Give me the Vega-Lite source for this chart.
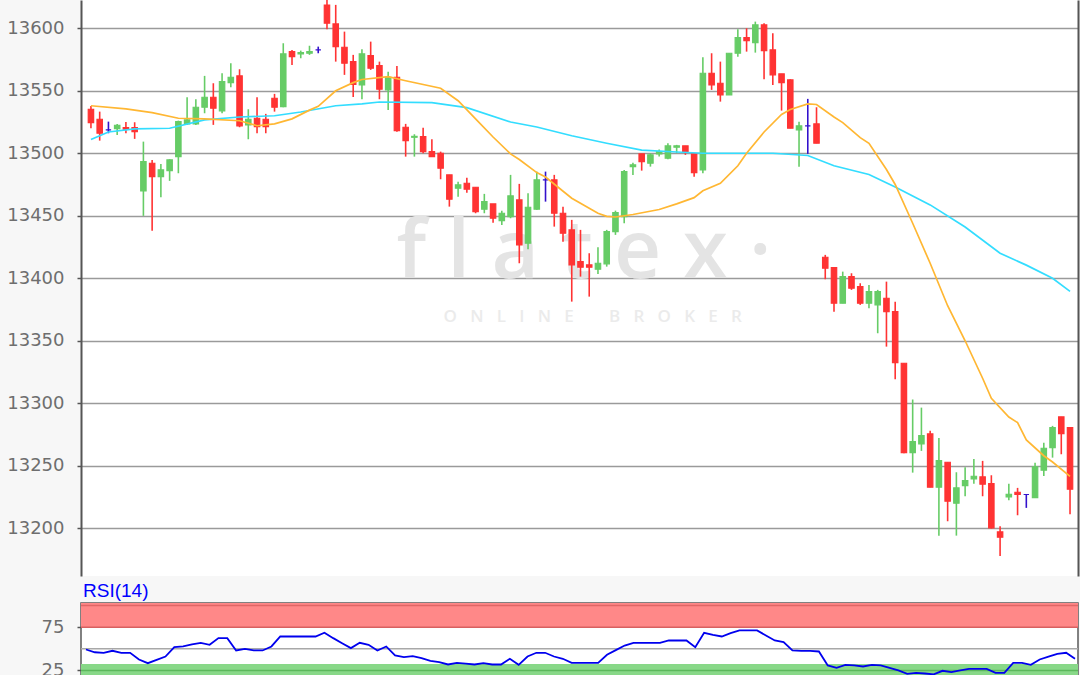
{
  "$schema": "https://vega.github.io/schema/vega-lite/v6.json",
  "padding": {"left": 6, "top": 0, "right": 3, "bottom": 0},
  "background": "#f7f7f7",
  "spacing": 27,
  "bounds": "flush",
  "config": {
    "view": {"fill": "white", "stroke": null},
    "axis": {"labelFont": "DejaVu Sans", "labelFontSize": 18, "labelColor": "#6e6e6e", "tickColor": "#555555", "tickSize": 4, "tickWidth": 1.5, "domainColor": "#555555", "domainWidth": 2, "labelPadding": 13, "gridColor": "#9a9a9a", "gridWidth": 1.5, "format": "d"}
  },
  "datasets": {
    "one": [{"k": 1}],
    "candles": [
      {"i":0,"o":13535.2,"h":13537.9,"l":13520,"c":13524.5},
      {"i":1,"o":13527.2,"h":13533.3,"l":13510.1,"c":13516},
      {"i":2,"o":13518.7,"h":13525.3,"l":13516,"c":13518.7},
      {"i":3,"o":13519.7,"h":13523.5,"l":13514.7,"c":13522.4},
      {"i":4,"o":13520.5,"h":13525,"l":13516,"c":13519.2},
      {"i":5,"o":13520.5,"h":13524.8,"l":13511.5,"c":13517.3},
      {"i":6,"o":13469.9,"h":13509.3,"l":13449.9,"c":13493.3},
      {"i":7,"o":13492,"h":13494.7,"l":13438.1,"c":13481.3},
      {"i":8,"o":13481.3,"h":13491.5,"l":13464.8,"c":13486.7},
      {"i":9,"o":13486.1,"h":13495.2,"l":13477.9,"c":13494.7},
      {"i":10,"o":13497.3,"h":13526.1,"l":13484,"c":13525.3},
      {"i":11,"o":13523.5,"h":13544.8,"l":13522.7,"c":13526.7},
      {"i":12,"o":13523.5,"h":13543.2,"l":13522.7,"c":13536.8},
      {"i":13,"o":13536.8,"h":13561.9,"l":13532,"c":13544.8},
      {"i":14,"o":13544.8,"h":13556,"l":13522.7,"c":13536},
      {"i":15,"o":13533.9,"h":13564,"l":13532,"c":13557.3},
      {"i":16,"o":13556.5,"h":13572,"l":13552.8,"c":13560.8},
      {"i":17,"o":13561.9,"h":13567.2,"l":13520.8,"c":13521.9},
      {"i":18,"o":13522.7,"h":13535.2,"l":13511.2,"c":13527.2},
      {"i":19,"o":13528,"h":13544.8,"l":13516,"c":13521.3},
      {"i":20,"o":13527.2,"h":13531.5,"l":13516,"c":13521.3},
      {"i":21,"o":13544,"h":13547.5,"l":13533.3,"c":13536.8},
      {"i":22,"o":13537.3,"h":13588,"l":13536.8,"c":13579.5},
      {"i":23,"o":13581.3,"h":13582.7,"l":13570.7,"c":13577.3},
      {"i":24,"o":13579.5,"h":13582.1,"l":13576,"c":13580.5},
      {"i":25,"o":13580,"h":13586,"l":13578.7,"c":13581.3},
      {"i":26,"o":13582.7,"h":13585.3,"l":13580,"c":13582.7},
      {"i":27,"o":13618.6,"h":13630,"l":13599.2,"c":13604},
      {"i":28,"o":13603.5,"h":13618.7,"l":13573.3,"c":13585.3},
      {"i":29,"o":13584.8,"h":13597.3,"l":13562.7,"c":13572},
      {"i":30,"o":13573.3,"h":13578.7,"l":13545,"c":13555},
      {"i":31,"o":13554.7,"h":13583.2,"l":13543.2,"c":13579.5},
      {"i":32,"o":13578.1,"h":13589.3,"l":13566.7,"c":13568},
      {"i":33,"o":13570.1,"h":13573.3,"l":13543.2,"c":13551.2},
      {"i":34,"o":13550.7,"h":13565.3,"l":13534.7,"c":13560.8},
      {"i":35,"o":13560.8,"h":13569.9,"l":13517.3,"c":13518.1},
      {"i":36,"o":13520.8,"h":13523.5,"l":13497.3,"c":13510.1},
      {"i":37,"o":13512.8,"h":13515.2,"l":13497.3,"c":13513.5},
      {"i":38,"o":13513.3,"h":13520.5,"l":13500,"c":13501.3},
      {"i":39,"o":13501.3,"h":13511.2,"l":13497.3,"c":13497.3},
      {"i":40,"o":13500,"h":13501.3,"l":13479.2,"c":13488},
      {"i":41,"o":13482.7,"h":13482.7,"l":13457.3,"c":13463.2},
      {"i":42,"o":13472,"h":13477.3,"l":13465.3,"c":13474.7},
      {"i":43,"o":13476,"h":13480.5,"l":13468.5,"c":13471.2},
      {"i":44,"o":13472.8,"h":13472.8,"l":13452,"c":13453.3},
      {"i":45,"o":13455.2,"h":13467.5,"l":13452,"c":13461.3},
      {"i":46,"o":13459.5,"h":13459.5,"l":13444.5,"c":13448},
      {"i":47,"o":13446.1,"h":13454.1,"l":13442.7,"c":13452},
      {"i":48,"o":13449.3,"h":13482.7,"l":13448,"c":13465.9},
      {"i":49,"o":13462.7,"h":13475.5,"l":13412,"c":13426.7},
      {"i":50,"o":13428,"h":13468,"l":13423.2,"c":13456.8},
      {"i":51,"o":13455.2,"h":13485.3,"l":13454.7,"c":13478.7},
      {"i":52,"o":13478.7,"h":13485.3,"l":13461.3,"c":13478.7},
      {"i":53,"o":13478.7,"h":13482.7,"l":13441.3,"c":13452},
      {"i":54,"o":13452,"h":13457.3,"l":13429.3,"c":13436},
      {"i":55,"o":13438.7,"h":13446.7,"l":13381.3,"c":13410.7},
      {"i":56,"o":13413.3,"h":13438.7,"l":13401.3,"c":13408.8},
      {"i":57,"o":13410.7,"h":13420,"l":13385.3,"c":13408.8},
      {"i":58,"o":13407.2,"h":13424.8,"l":13403.5,"c":13412},
      {"i":59,"o":13411.5,"h":13438.7,"l":13409.3,"c":13437.3},
      {"i":60,"o":13437.3,"h":13454.1,"l":13434.7,"c":13452.5},
      {"i":61,"o":13449.3,"h":13486.7,"l":13444,"c":13485.3},
      {"i":62,"o":13489.3,"h":13492.5,"l":13482.7,"c":13490.7},
      {"i":63,"o":13499.5,"h":13499.5,"l":13486.1,"c":13493.3},
      {"i":64,"o":13492,"h":13500,"l":13489.3,"c":13498.7},
      {"i":65,"o":13499.5,"h":13503,"l":13497.5,"c":13501.3},
      {"i":66,"o":13496,"h":13508,"l":13495.2,"c":13505.9},
      {"i":67,"o":13504.8,"h":13506.7,"l":13500,"c":13505.9},
      {"i":68,"o":13505.9,"h":13505.9,"l":13498.7,"c":13501.3},
      {"i":69,"o":13499.5,"h":13500,"l":13481.3,"c":13484.5},
      {"i":70,"o":13486.7,"h":13576.8,"l":13484,"c":13564},
      {"i":71,"o":13564,"h":13580,"l":13550.7,"c":13554.7},
      {"i":72,"o":13556,"h":13573.3,"l":13541.3,"c":13546.7},
      {"i":73,"o":13546.7,"h":13580,"l":13546.7,"c":13580},
      {"i":74,"o":13580,"h":13599.2,"l":13577.3,"c":13592.5},
      {"i":75,"o":13592.5,"h":13600,"l":13581.3,"c":13590.1},
      {"i":76,"o":13588.5,"h":13605.3,"l":13580.5,"c":13602.7},
      {"i":77,"o":13602.7,"h":13604,"l":13559.2,"c":13582.1},
      {"i":78,"o":13582.7,"h":13596,"l":13554.7,"c":13562.7},
      {"i":79,"o":13563.5,"h":13563.5,"l":13534.1,"c":13556.5},
      {"i":80,"o":13558.7,"h":13559.2,"l":13520,"c":13520},
      {"i":81,"o":13518.7,"h":13525.3,"l":13489.3,"c":13521.9},
      {"i":82,"o":13521.9,"h":13543.5,"l":13499.5,"c":13521.9},
      {"i":83,"o":13523.5,"h":13536.8,"l":13508,"c":13508},
      {"i":84,"o":13416.8,"h":13418.7,"l":13399.2,"c":13408},
      {"i":85,"o":13408.5,"h":13409,"l":13373.3,"c":13380},
      {"i":86,"o":13380,"h":13405.3,"l":13380,"c":13401.3},
      {"i":87,"o":13401.3,"h":13404,"l":13390.7,"c":13392},
      {"i":88,"o":13393.3,"h":13396,"l":13378.7,"c":13380},
      {"i":89,"o":13380,"h":13394.7,"l":13376,"c":13389.3},
      {"i":90,"o":13378.7,"h":13390.7,"l":13356,"c":13389.3},
      {"i":91,"o":13384,"h":13397.3,"l":13345.3,"c":13373.3},
      {"i":92,"o":13373.3,"h":13381.3,"l":13319.2,"c":13332.5},
      {"i":93,"o":13332,"h":13332,"l":13260,"c":13260.5},
      {"i":94,"o":13260.5,"h":13303,"l":13244.5,"c":13269.3},
      {"i":95,"o":13267.5,"h":13296.5,"l":13261.9,"c":13274.1},
      {"i":96,"o":13275.5,"h":13278.1,"l":13232.8,"c":13232.8},
      {"i":97,"o":13232.8,"h":13272.3,"l":13194.1,"c":13254.1},
      {"i":98,"o":13252.8,"h":13252.8,"l":13205.6,"c":13221.6},
      {"i":99,"o":13220,"h":13244.8,"l":13194.1,"c":13232.3},
      {"i":100,"o":13234.1,"h":13248.8,"l":13225.6,"c":13238.1},
      {"i":101,"o":13239.5,"h":13255.5,"l":13235.7,"c":13241.6},
      {"i":102,"o":13241.1,"h":13253.9,"l":13225.6,"c":13235.2},
      {"i":103,"o":13235.7,"h":13242.4,"l":13199.7,"c":13200.3},
      {"i":104,"o":13197.1,"h":13201.6,"l":13177.9,"c":13192.8},
      {"i":105,"o":13225.1,"h":13235.7,"l":13222.4,"c":13227.2},
      {"i":106,"o":13228.8,"h":13232.3,"l":13210.4,"c":13227},
      {"i":107,"o":13227,"h":13227,"l":13216.3,"c":13227},
      {"i":108,"o":13224.5,"h":13252.5,"l":13224.5,"c":13249.1},
      {"i":109,"o":13246.4,"h":13268.5,"l":13241.9,"c":13264},
      {"i":110,"o":13264.5,"h":13281.9,"l":13256.5,"c":13280.5},
      {"i":111,"o":13289.1,"h":13289.1,"l":13259.2,"c":13275.7},
      {"i":112,"o":13280.5,"h":13280.5,"l":13211.2,"c":13231.2}
    ],
    "ma20": [
      {"i":0,"v":13538},{"i":4,"v":13535.5},{"i":7,"v":13532.5},{"i":10,"v":13528},{"i":13,"v":13527.5},
      {"i":17,"v":13526},{"i":19,"v":13522},{"i":21,"v":13523.5},{"i":23,"v":13527.5},{"i":25,"v":13534.5},
      {"i":26,"v":13537.5},{"i":28,"v":13550},{"i":30,"v":13556.5},{"i":31,"v":13559},{"i":34,"v":13561.3},
      {"i":36,"v":13558},{"i":40,"v":13552},{"i":42,"v":13542},{"i":44,"v":13527.5},{"i":46,"v":13513},
      {"i":48,"v":13499.5},{"i":49,"v":13495},{"i":51,"v":13484.5},{"i":52,"v":13481},{"i":55,"v":13464},
      {"i":58,"v":13452},{"i":59,"v":13449.5},{"i":60,"v":13449},{"i":62,"v":13451},{"i":65,"v":13455},
      {"i":67,"v":13459.5},{"i":69,"v":13464.5},{"i":70,"v":13470},{"i":72,"v":13476},{"i":74,"v":13490},
      {"i":75,"v":13500},{"i":77,"v":13517},{"i":79,"v":13531},{"i":80,"v":13535},{"i":82,"v":13539.5},
      {"i":83,"v":13539},{"i":85,"v":13529},{"i":86,"v":13524.5},{"i":88,"v":13512.5},{"i":89,"v":13508},
      {"i":91,"v":13487},{"i":92,"v":13475},{"i":94,"v":13444},{"i":96,"v":13412},{"i":98,"v":13378},
      {"i":100,"v":13350},{"i":102,"v":13320},{"i":103,"v":13304},{"i":105,"v":13289},{"i":106,"v":13284.5},
      {"i":107,"v":13270.6},{"i":109,"v":13258},{"i":110,"v":13253},{"i":112,"v":13241.5}
    ],
    "ma50": [
      {"i":0,"v":13511},{"i":2,"v":13517},{"i":5,"v":13519.5},{"i":9,"v":13520},{"i":13,"v":13526.7},
      {"i":17,"v":13529},{"i":21,"v":13530},{"i":24,"v":13533},{"i":28,"v":13538},{"i":31,"v":13539.5},
      {"i":33,"v":13541},{"i":39,"v":13540.5},{"i":43,"v":13536.5},{"i":48,"v":13525},{"i":51,"v":13521},
      {"i":55,"v":13514},{"i":59,"v":13508},{"i":63,"v":13502.5},{"i":67,"v":13501},{"i":70,"v":13500},
      {"i":78,"v":13500},{"i":82,"v":13498.2},{"i":85,"v":13490},{"i":89,"v":13483},{"i":92,"v":13473},
      {"i":96,"v":13458.7},{"i":100,"v":13441},{"i":104,"v":13420},{"i":107,"v":13410.5},{"i":110,"v":13400},
      {"i":112,"v":13389.5}
    ],
    "rsi": [
      {"i":0,"v":49.2},{"i":1,"v":46},{"i":2,"v":45.4},{"i":3,"v":47.7},{"i":4,"v":45.4},{"i":5,"v":45.4},
      {"i":6,"v":37.7},{"i":7,"v":33.4},{"i":8,"v":37.3},{"i":9,"v":41.1},{"i":10,"v":51.9},{"i":11,"v":52.7},
      {"i":12,"v":55},{"i":13,"v":56.9},{"i":14,"v":54.6},{"i":15,"v":62.3},{"i":16,"v":62.3},{"i":17,"v":48.1},
      {"i":18,"v":50},{"i":19,"v":48.1},{"i":20,"v":48.1},{"i":21,"v":52.7},{"i":22,"v":64.2},{"i":23,"v":64.2},
      {"i":24,"v":64.2},{"i":25,"v":64.2},{"i":26,"v":64.2},{"i":27,"v":68.5},{"i":28,"v":62.3},{"i":29,"v":56.5},
      {"i":30,"v":50.8},{"i":31,"v":56.9},{"i":32,"v":54.6},{"i":33,"v":48.1},{"i":34,"v":52.7},{"i":35,"v":42.3},
      {"i":36,"v":40.4},{"i":37,"v":41.5},{"i":38,"v":39.2},{"i":39,"v":36},{"i":40,"v":34.5},{"i":41,"v":31.9},
      {"i":42,"v":33.8},{"i":43,"v":32.8},{"i":44,"v":31.9},{"i":45,"v":33.4},{"i":46,"v":31.9},{"i":47,"v":31.9},
      {"i":48,"v":38.5},{"i":49,"v":31.5},{"i":50,"v":41.1},{"i":51,"v":45.4},{"i":52,"v":45.4},{"i":53,"v":41.1},
      {"i":54,"v":38.5},{"i":55,"v":33.8},{"i":56,"v":33.8},{"i":57,"v":33.8},{"i":58,"v":33.8},{"i":59,"v":43.1},
      {"i":60,"v":48.5},{"i":61,"v":53.8},{"i":62,"v":56.9},{"i":63,"v":56.9},{"i":64,"v":56.9},{"i":65,"v":56.9},
      {"i":66,"v":59.6},{"i":67,"v":59.6},{"i":68,"v":59.6},{"i":69,"v":51.9},{"i":70,"v":68.5},{"i":71,"v":66},
      {"i":72,"v":64.2},{"i":73,"v":68},{"i":74,"v":71.2},{"i":75,"v":71.2},{"i":76,"v":71.2},{"i":77,"v":65.4},
      {"i":78,"v":59.6},{"i":79,"v":57.7},{"i":80,"v":48.1},{"i":81,"v":47.5},{"i":82,"v":47.5},{"i":83,"v":46.9},
      {"i":84,"v":30.8},{"i":85,"v":28.1},{"i":86,"v":31.5},{"i":87,"v":30.8},{"i":88,"v":29.6},{"i":89,"v":31.5},
      {"i":90,"v":30.8},{"i":91,"v":28},{"i":92,"v":25},{"i":93,"v":21.1},{"i":94,"v":22.3},{"i":95,"v":21.5},
      {"i":96,"v":20.4},{"i":97,"v":24.6},{"i":98,"v":23.1},{"i":99,"v":25},{"i":100,"v":26.9},{"i":101,"v":26.9},
      {"i":102,"v":26.9},{"i":103,"v":22.3},{"i":104,"v":22.3},{"i":105,"v":33.8},{"i":106,"v":33.8},{"i":107,"v":31.5},
      {"i":108,"v":37.7},{"i":109,"v":41},{"i":110,"v":44.2},{"i":111,"v":45.4},{"i":112,"v":38.5}
    ]
  },
  "vconcat": [
    {
      "width": 997,
      "height": 576,
      "resolve": {"axis": {"y": "independent"}},
      "layer": [
        {
          "data": {"name": "one"},
          "mark": {"type": "text", "text": "f l a t e x  ·", "font": "Open Sans", "fontSize": 82, "fontWeight": 600, "color": "#e4e4e4", "align": "center", "baseline": "alphabetic"},
          "encoding": {
            "x": {"datum": 56.4, "type": "quantitative", "scale": {"domain": [-0.566, 112.34], "nice": false, "zero": false}, "axis": null},
            "y": {"datum": 13400, "type": "quantitative", "scale": {"domain": [13161.8, 13622.6], "nice": false, "zero": false}, "axis": null}
          }
        },
        {
          "data": {"name": "one"},
          "mark": {"type": "text", "text": "O\u00a0\u00a0\u00a0N\u00a0\u00a0\u00a0L\u00a0\u00a0\u00a0I\u00a0\u00a0\u00a0N\u00a0\u00a0\u00a0E\u00a0\u00a0\u00a0\u00a0\u00a0\u00a0\u00a0\u00a0B\u00a0\u00a0\u00a0R\u00a0\u00a0\u00a0O\u00a0\u00a0\u00a0K\u00a0\u00a0\u00a0E\u00a0\u00a0\u00a0R", "font": "Open Sans", "fontSize": 17, "fontWeight": 600, "color": "#ebebeb", "align": "center", "baseline": "alphabetic"},
          "encoding": {
            "x": {"datum": 57.4, "type": "quantitative", "scale": {"domain": [-0.566, 112.34], "nice": false, "zero": false}, "axis": null},
            "y": {"datum": 13365, "type": "quantitative", "scale": {"domain": [13161.8, 13622.6], "nice": false, "zero": false}, "axis": null}
          }
        },
        {
          "data": {"name": "candles"},
          "mark": {"type": "rule", "strokeWidth": 1.6, "clip": true},
          "encoding": {
            "x": {"field": "i", "type": "quantitative", "scale": {"domain": [-0.566, 112.34], "nice": false, "zero": false}, "axis": {"labels": false, "ticks": false, "grid": false, "domain": true, "title": null}},
            "y": {"field": "l", "type": "quantitative", "scale": {"domain": [13161.8, 13622.6], "nice": false, "zero": false}, "axis": {"orient": "right", "labels": false, "ticks": false, "grid": false, "domain": true, "title": null}},
            "y2": {"field": "h"},
            "color": {"condition": [{"test": "datum.c > datum.o", "value": "#66cc66"}, {"test": "datum.c < datum.o", "value": "#ff3333"}], "value": "#3311cc"}
          }
        },
        {
          "data": {"name": "candles"},
          "mark": {"type": "bar", "width": 5.4, "strokeWidth": 1.2, "clip": true},
          "encoding": {
            "x": {"field": "i", "type": "quantitative", "scale": {"domain": [-0.566, 112.34], "nice": false, "zero": false}, "axis": {"labels": false, "ticks": false, "grid": false, "domain": true, "title": null}},
            "y": {"field": "o", "type": "quantitative", "scale": {"domain": [13161.8, 13622.6], "nice": false, "zero": false}, "axis": {"orient": "left", "values": [13200, 13250, 13300, 13350, 13400, 13450, 13500, 13550, 13600], "format": "d", "grid": true, "title": null, "domain": true}},
            "y2": {"field": "c"},
            "color": {"condition": [{"test": "datum.c > datum.o", "value": "#66cc66"}, {"test": "datum.c < datum.o", "value": "#ff3333"}], "value": "#3311cc"},
            "stroke": {"condition": [{"test": "datum.c > datum.o", "value": "#66cc66"}, {"test": "datum.c < datum.o", "value": "#ff3333"}], "value": "#3311cc"}
          }
        },
        {
          "data": {"name": "ma50"},
          "mark": {"type": "line", "color": "#33ddff", "strokeWidth": 1.7, "clip": true},
          "encoding": {
            "x": {"field": "i", "type": "quantitative", "scale": {"domain": [-0.566, 112.34], "nice": false, "zero": false}, "axis": null},
            "y": {"field": "v", "type": "quantitative", "scale": {"domain": [13161.8, 13622.6], "nice": false, "zero": false}, "axis": null}
          }
        },
        {
          "data": {"name": "ma20"},
          "mark": {"type": "line", "color": "#ffb733", "strokeWidth": 1.7, "clip": true},
          "encoding": {
            "x": {"field": "i", "type": "quantitative", "scale": {"domain": [-0.566, 112.34], "nice": false, "zero": false}, "axis": null},
            "y": {"field": "v", "type": "quantitative", "scale": {"domain": [13161.8, 13622.6], "nice": false, "zero": false}, "axis": null}
          }
        }
      ]
    },
    {
      "width": 997,
      "height": 89.1,
      "title": {"text": "RSI(14)", "anchor": "start", "frame": "group", "color": "#0000ff", "font": "Liberation Sans", "fontSize": 19, "fontWeight": "normal", "offset": 2, "dx": 2},
      "view": {"fill": "white", "stroke": "#5a5a5a", "strokeWidth": 1.5},
      "layer": [
        {
          "data": {"name": "one"},
          "mark": {"type": "rect", "color": "#ff8888"},
          "encoding": {
            "y": {"datum": 75, "type": "quantitative", "scale": {"domain": [0, 102.9], "nice": false, "zero": false}, "axis": {"values": [25, 75], "grid": false, "title": null, "domain": false, "format": "d"}},
            "y2": {"datum": 102.9}
          }
        },
        {
          "data": {"name": "one"},
          "mark": {"type": "rect", "color": "#88d888"},
          "encoding": {
            "y": {"datum": 0, "type": "quantitative", "scale": {"domain": [0, 102.9], "nice": false, "zero": false}, "axis": {"values": [25, 75], "grid": false, "title": null, "domain": false, "format": "d"}},
            "y2": {"datum": 32.5}
          }
        },
        {
          "data": {"name": "one"},
          "mark": {"type": "rule", "color": "#e06666", "strokeWidth": 1.5},
          "encoding": {"y": {"datum": 100, "type": "quantitative", "scale": {"domain": [0, 102.9], "nice": false, "zero": false}, "axis": {"values": [25, 75], "grid": false, "title": null, "domain": false, "format": "d"}}}
        },
        {
          "data": {"name": "one"},
          "mark": {"type": "rule", "color": "#d86060", "strokeWidth": 1.5},
          "encoding": {"y": {"datum": 75, "type": "quantitative", "scale": {"domain": [0, 102.9], "nice": false, "zero": false}, "axis": {"values": [25, 75], "grid": false, "title": null, "domain": false, "format": "d"}}}
        },
        {
          "data": {"name": "one"},
          "mark": {"type": "rule", "color": "#5cb85c", "strokeWidth": 1.5},
          "encoding": {"y": {"datum": 25, "type": "quantitative", "scale": {"domain": [0, 102.9], "nice": false, "zero": false}, "axis": {"values": [25, 75], "grid": false, "title": null, "domain": false, "format": "d"}}}
        },
        {
          "data": {"name": "one"},
          "mark": {"type": "rule", "color": "#a8a8a8", "strokeWidth": 1.5},
          "encoding": {"y": {"datum": 50, "type": "quantitative", "scale": {"domain": [0, 102.9], "nice": false, "zero": false}, "axis": {"values": [25, 75], "grid": false, "title": null, "domain": false, "format": "d"}}}
        },
        {
          "data": {"name": "rsi"},
          "mark": {"type": "line", "color": "#0000ee", "strokeWidth": 1.8, "clip": true},
          "encoding": {
            "x": {"field": "i", "type": "quantitative", "scale": {"domain": [-0.566, 112.34], "nice": false, "zero": false}, "axis": null},
            "y": {"field": "v", "type": "quantitative", "scale": {"domain": [0, 102.9], "nice": false, "zero": false}, "axis": {"values": [25, 75], "grid": false, "title": null, "domain": false, "format": "d"}}
          }
        }
      ]
    }
  ]
}
